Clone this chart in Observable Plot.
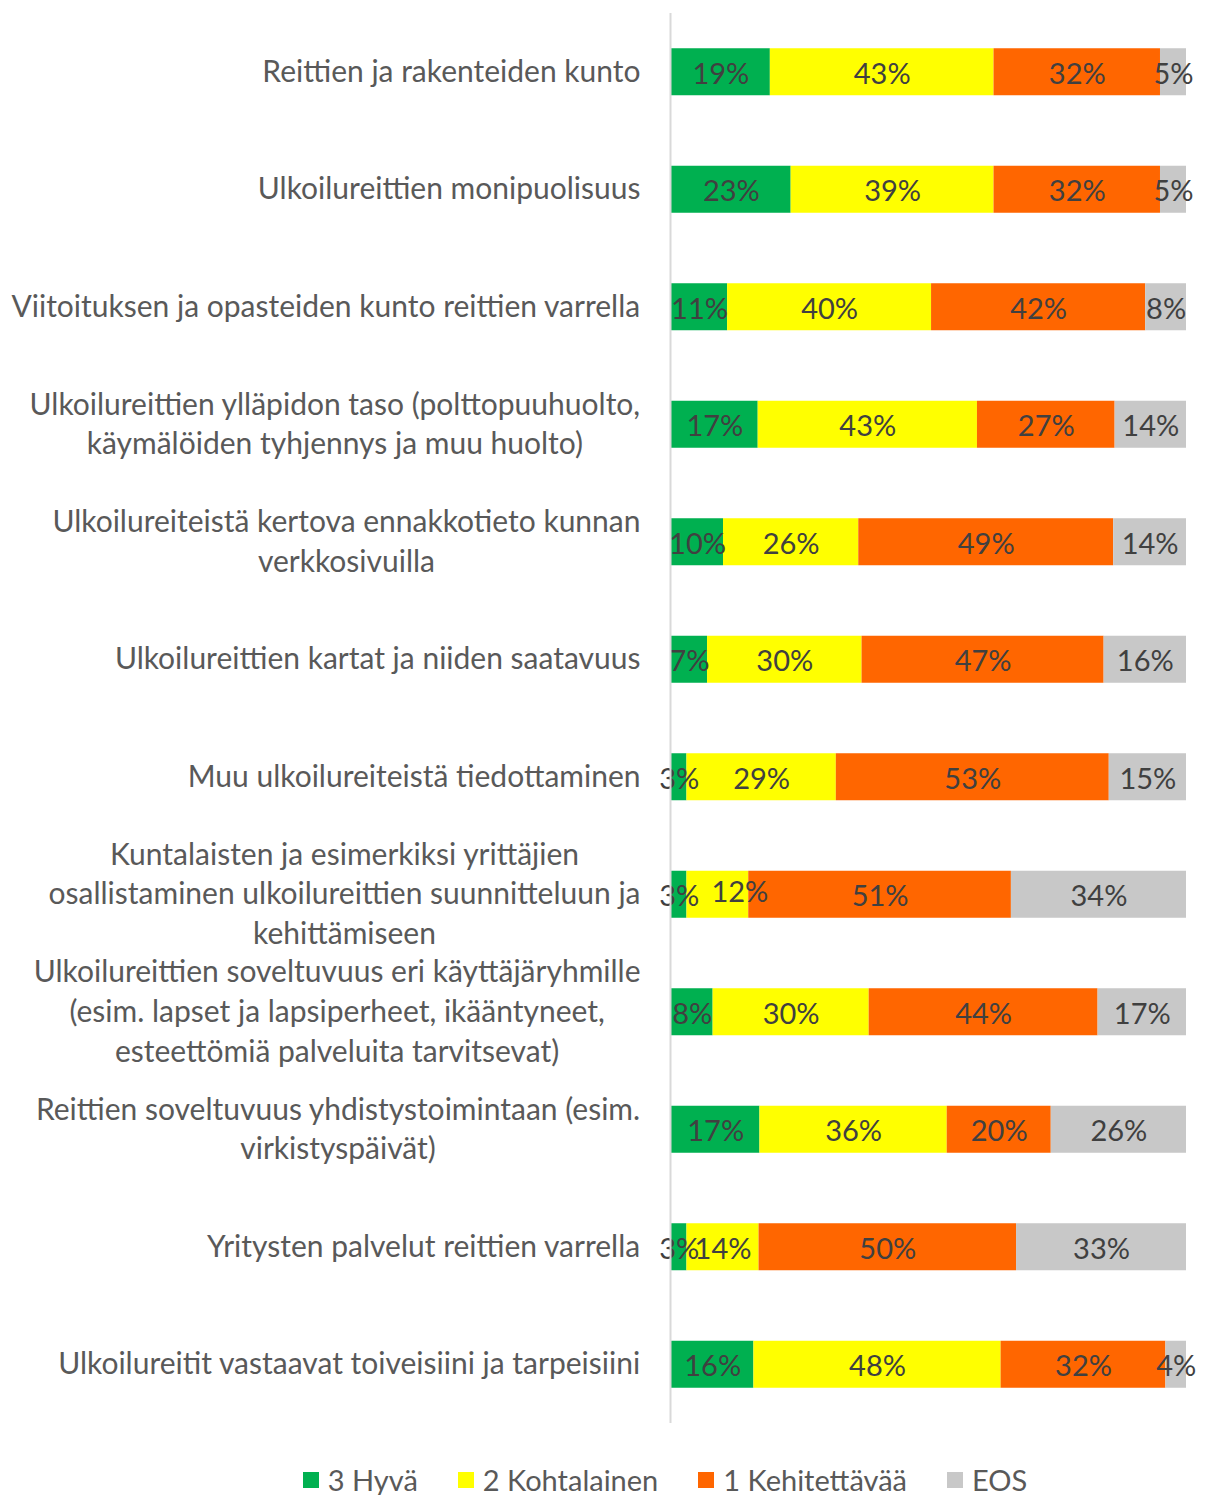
<!DOCTYPE html>
<html>
<head>
<meta charset="utf-8">
<script src="https://cdn.jsdelivr.net/npm/d3@7"></script>
<script src="https://cdn.jsdelivr.net/npm/@observablehq/plot@0.6"></script>
<style>
  body { margin: 0; background: #fff; font-family: Lato, "Open Sans", sans-serif; }
  #legend { display: flex; justify-content: center; gap: 40px; margin-top: 22px; font-size: 29px; color: #595959; padding-left: 120px; }
  #legend .item { display: flex; align-items: center; gap: 9px; }
  #legend .sw { width: 16px; height: 16px; display: inline-block; }
</style>
</head>
<body>
<div id="chart"></div>
<div id="legend"></div>
<script>
const categories = [
  "Reittien ja rakenteiden kunto",
  "Ulkoilureittien monipuolisuus",
  "Viitoituksen ja opasteiden kunto reittien varrella",
  "Ulkoilureittien ylläpidon taso (polttopuuhuolto,\nkäymälöiden tyhjennys ja muu huolto)",
  "Ulkoilureiteistä kertova ennakkotieto kunnan\nverkkosivuilla",
  "Ulkoilureittien kartat ja niiden saatavuus",
  "Muu ulkoilureiteistä tiedottaminen",
  "Kuntalaisten ja esimerkiksi yrittäjien\nosallistaminen ulkoilureittien suunnitteluun ja\nkehittämiseen",
  "Ulkoilureittien soveltuvuus eri käyttäjäryhmille\n(esim. lapset ja lapsiperheet, ikääntyneet,\nesteettömiä palveluita tarvitsevat)",
  "Reittien soveltuvuus yhdistystoimintaan (esim.\nvirkistyspäivät)",
  "Yritysten palvelut reittien varrella",
  "Ulkoilureitit vastaavat toiveisiini ja tarpeisiini"
];
const seriesNames = ["3 Hyvä", "2 Kohtalainen", "1 Kehitettävää", "EOS"];
const seriesColors = ["#00B050", "#FFFF00", "#FF6600", "#C8C8C8"];
const hyva =         [19, 23, 11, 17, 10,  7,  3,  3,  8, 17,  3, 16];
const kohtalainen =  [43, 39, 40, 43, 26, 30, 29, 12, 30, 36, 14, 48];
const kehitettava =  [32, 32, 42, 27, 49, 47, 53, 51, 44, 20, 50, 32];
const eos =          [ 5,  5,  8, 14, 14, 16, 15, 34, 17, 26, 33,  4];

const seriesValues = [hyva, kohtalainen, kehitettava, eos];
const data = [];
categories.forEach((c, i) => {
  seriesNames.forEach((s, j) => {
    data.push({category: c, series: s, value: seriesValues[j][i], row: i, col: j});
  });
});

const fontSize = 29;
const labelFontSize = 30;
const fontFamily = "Lato, 'Open Sans', sans-serif";
const canvas = document.createElement("canvas");
const ctx = canvas.getContext("2d");
ctx.font = `${labelFontSize}px Lato`;

const marginLeft = 671;
const labelRight = 640;
const labelMarks = categories.map(c => {
  const w = d3.max(c.split("\n"), l => ctx.measureText(l).width);
  const center = labelRight - w / 2;
  return Plot.text([c], {
    y: d => d,
    text: d => d,
    frameAnchor: "left",
    textAnchor: "middle",
    dx: center - marginLeft,
    dy: -3,
    lineHeight: 1.32,
    fill: "#595959",
    fontSize: labelFontSize
  });
});

const stackOpts = {x: "value", y: "category", z: "series", offset: "normalize"};
// the reference nudges one crowded label (row 8, "2 Kohtalainen") to the right
const isNudged = d => d.row === 7 && d.col === 1;

const plot = Plot.plot({
  width: 1210,
  height: 1440,
  marginLeft,
  marginRight: 24,
  marginTop: 13,
  marginBottom: 17,
  style: {fontFamily, fontSize: fontSize + "px", background: "#fff"},
  x: {axis: null, domain: [0, 1]},
  y: {axis: null, domain: categories, paddingInner: 0.6, paddingOuter: 0.3, round: false},
  color: {domain: seriesNames, range: seriesColors},
  marks: [
    Plot.barX(data, Plot.stackX({...stackOpts, fill: "series"})),
    Plot.text(data, Plot.stackX({...stackOpts, text: d => isNudged(d) ? null : d.value + "%", fill: "#404040", fontSize, dy: 2})),
    Plot.text(data, Plot.stackX({...stackOpts, text: d => isNudged(d) ? d.value + "%" : null, fill: "#404040", fontSize, dx: 22, dy: -2})),
    Plot.ruleX([0], {stroke: "#D9D9D9", strokeWidth: 2, dx: -1}),
    ...labelMarks
  ]
});
document.getElementById("chart").appendChild(plot);

const legend = d3.select("#legend");
seriesNames.forEach((s, i) => {
  const item = legend.append("div").attr("class", "item");
  item.append("span").attr("class", "sw").style("background", seriesColors[i]);
  item.append("span").text(s);
});
</script>
</body>
</html>
